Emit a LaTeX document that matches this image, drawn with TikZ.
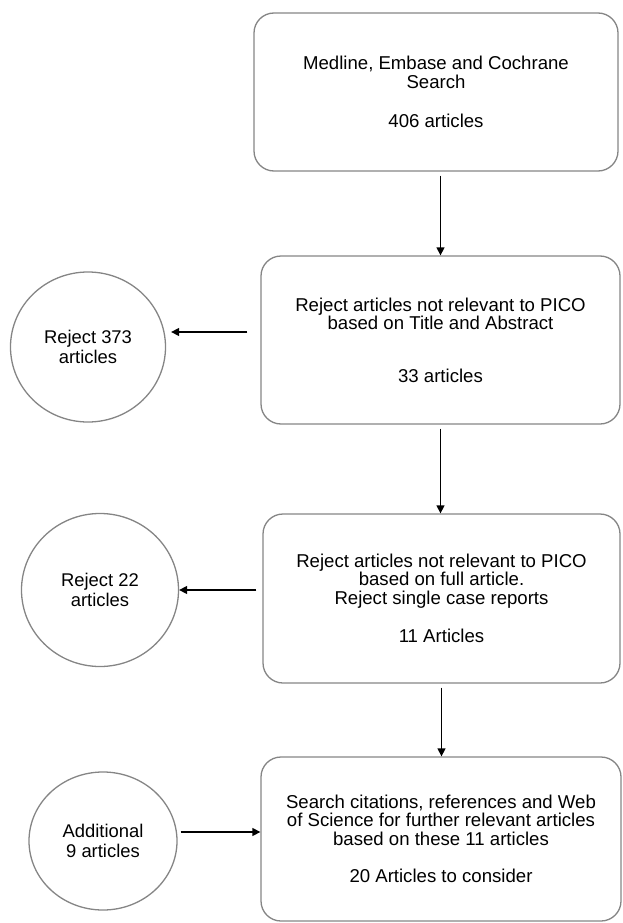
\documentclass[tikz,border=0pt]{standalone}
\usepackage{fontspec}
\setmainfont{Liberation Sans}
\usetikzlibrary{arrows.meta,positioning,shapes.geometric}
\definecolor{edge}{HTML}{858585}

\begin{document}
\begin{tikzpicture}[x=1pt,y=-1pt,
  box/.style={draw=edge,line width=1.3pt,rounded corners=20pt,inner sep=0pt,align=center,font=\fontsize{18.6}{18.5}\selectfont},
  circ/.style={ellipse,draw=edge,line width=1.3pt,inner sep=0pt,align=center,font=\fontsize{18.4}{20}\selectfont},
  arr/.style={-{Triangle[length=8pt,width=8pt]},line width=1.3pt}]

  \useasboundingbox (0,0) rectangle (622,923);

  % Main steps
  \node[box,minimum width=364pt,minimum height=158pt] (search) at (436,92)
    {Medline, Embase and Cochrane\\Search\\[21pt]406 articles};
  \node[box,minimum width=359pt,minimum height=168pt] (title) at (440.5,340)
    {Reject articles not relevant to PICO\\based on Title and Abstract\\[34pt]33 articles};
  \node[box,minimum width=357pt,minimum height=169pt] (fulltext) at (441.5,598.5)
    {Reject articles not relevant to PICO\\based on full article.\\Reject single case reports\\[20pt]11 Articles};
  \node[box,minimum width=360pt,minimum height=164pt] (cites) at (441,839)
    {Search citations, references and Web\\of Science for further relevant articles\\based on these 11 articles\\[19pt]20 Articles to consider};

  % Side circles
  \node[circ,minimum width=155pt,minimum height=150pt] (rejtitle) at (88,347) {Reject 373\\articles};
  \node[circ,minimum width=157pt,minimum height=153pt] (rejfull) at (100,590) {Reject 22\\articles};
  \node[circ,minimum width=148pt,minimum height=138pt] (extra) at (103,841) {Additional\\9 articles};

  % Flow down
  \draw[arr,shorten <=4pt] (search.south -| title.north) -- (title.north);
  \draw[arr,shorten <=4pt] (title.south) -- (title.south |- fulltext.north);
  \draw[arr,shorten <=4pt] (fulltext.south) -- (fulltext.south |- cites.north);

  % Side arrows
  \draw[arr,shorten <=13pt,shorten >=5pt] ([yshift=8pt]title.west) -- ([yshift=8pt]title.west -| rejtitle.east);
  \draw[arr,shorten <=6pt] (fulltext.west |- rejfull.east) -- (rejfull.east);
  \draw[arr,shorten <=3pt] ([yshift=9pt]extra.east) -- ([yshift=9pt]extra.east -| cites.west);
\end{tikzpicture}
\end{document}
